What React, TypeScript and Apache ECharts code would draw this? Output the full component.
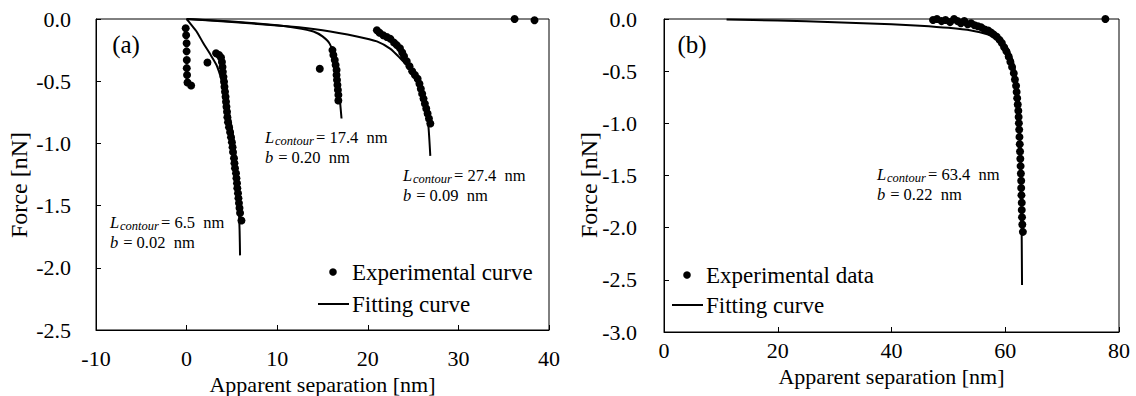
import React, { useEffect, useRef } from "react";
import * as echarts from "echarts";

// ---------- Panel (a) data ----------
const expA1: number[][] = [
  [-0.1, -0.075], [-0.05, -0.13], [0, -0.195], [0, -0.26], [0.02, -0.33],
  [0.02, -0.395], [0.05, -0.45], [0.1, -0.51], [0.5, -0.535],
];
const expALone: number[][] = [[2.3, -0.35], [14.7, -0.4], [36.2, 0], [38.4, -0.01]];
const expA2: number[][] = [
  [3.25, -0.275], [3.58, -0.29], [3.8, -0.31], [3.9, -0.345], [3.96, -0.385],
  [4.0, -0.425], [4.07, -0.465], [4.13, -0.505], [4.18, -0.545], [4.24, -0.585],
  [4.3, -0.625], [4.35, -0.665], [4.4, -0.705], [4.46, -0.745], [4.5, -0.79],
  [4.57, -0.83], [4.68, -0.87], [4.8, -0.91], [4.9, -0.95], [5.0, -0.99],
  [5.07, -1.03], [5.12, -1.07], [5.23, -1.12], [5.28, -1.16], [5.34, -1.2],
  [5.45, -1.24], [5.5, -1.28], [5.56, -1.32], [5.6, -1.36], [5.67, -1.4],
  [5.72, -1.44], [5.78, -1.48], [5.84, -1.52], [5.9, -1.56], [6.05, -1.62],
];
const expA3: number[][] = [
  [16.1, -0.25], [16.2, -0.29], [16.35, -0.33], [16.45, -0.37], [16.55, -0.41],
  [16.55, -0.45], [16.6, -0.49], [16.65, -0.53], [16.7, -0.57], [16.75, -0.61], [16.75, -0.655],
];
const expA4: number[][] = [
  [21.0, -0.09], [21.3, -0.11], [21.7, -0.13], [22.1, -0.145], [22.5, -0.16],
  [22.9, -0.19], [23.2, -0.21], [23.55, -0.235], [23.8, -0.27], [24.0, -0.3],
  [24.3, -0.34], [24.6, -0.38], [24.9, -0.42], [25.2, -0.45], [25.5, -0.48],
  [25.7, -0.52], [25.85, -0.56], [26.0, -0.6], [26.15, -0.64], [26.3, -0.68],
  [26.45, -0.72], [26.6, -0.76], [26.75, -0.8], [26.9, -0.84],
];
const fitA1: number[][] = [
  [0, 0], [0.5, -0.045], [1.1, -0.1], [1.85, -0.195], [2.58, -0.28], [3.3, -0.37],
  [3.86, -0.49], [4.4, -0.65], [4.98, -0.87], [5.34, -1.05], [5.6, -1.3],
  [5.75, -1.5], [5.85, -1.7], [5.9, -1.9],
];
const fitA2: number[][] = [
  [0, 0], [5, -0.02], [10, -0.05], [12, -0.07], [14, -0.1], [15, -0.14],
  [15.8, -0.2], [16.4, -0.33], [16.75, -0.52], [17.1, -0.8],
];
const fitA3: number[][] = [
  [0, 0], [5, -0.025], [11.4, -0.06], [15, -0.09], [18.8, -0.14], [21, -0.18],
  [22.5, -0.24], [23.5, -0.31], [24.5, -0.39], [25.3, -0.49], [26.0, -0.61],
  [26.45, -0.74], [26.7, -0.87], [26.9, -1.1],
];

// ---------- Panel (b) data ----------
const expB: number[][] = [
  [47.3, -0.01], [48, 0], [48.8, -0.02], [49.5, -0.01], [50.3, -0.03], [51, 0],
  [51.6, -0.02], [52.2, -0.04], [52.8, -0.02], [53.4, -0.05], [54, -0.04],
  [54.6, -0.06], [55.2, -0.07], [55.8, -0.08], [56.4, -0.1], [57, -0.11],
  [57.5, -0.13], [58, -0.15], [58.5, -0.17], [59, -0.2], [59.4, -0.23],
  [59.8, -0.27], [60.2, -0.31], [60.6, -0.36], [60.9, -0.41], [61.2, -0.46],
  [61.5, -0.52], [61.7, -0.58], [61.9, -0.64], [62.0, -0.7], [62.1, -0.76],
  [62.2, -0.82], [62.3, -0.88], [62.35, -0.94], [62.4, -1.0], [62.45, -1.06],
  [62.5, -1.13], [62.55, -1.2], [62.6, -1.27], [62.65, -1.34], [62.7, -1.41],
  [62.75, -1.48], [62.8, -1.55], [62.8, -1.62], [62.85, -1.69], [62.9, -1.76],
  [62.9, -1.83], [62.95, -1.9], [63.0, -1.97], [63.1, -2.04], [77.6, 0],
];
const fitB: number[][] = [
  [11, -0.005], [20, -0.015], [30, -0.03], [40, -0.05], [45, -0.065], [50, -0.085],
  [54, -0.11], [57, -0.15], [59, -0.2], [60.3, -0.27], [61.2, -0.38], [61.8, -0.52],
  [62.2, -0.7], [62.5, -0.95], [62.7, -1.3], [62.85, -1.8], [62.95, -2.55],
];

// ---------- texts ----------
const xTitle = "Apparent separation [nm]";
const yTitle = "Force [nN]";
const annA = [
  { L: "6.5", b: "0.02", x: 110, y: 222 },
  { L: "17.4", b: "0.20", x: 265, y: 137 },
  { L: "27.4", b: "0.09", x: 403, y: 175 },
];
const annB = [{ L: "63.4", b: "0.22", x: 877, y: 174 }];

const FONT = "Liberation Serif";

function annText(a: { L: string; b: string; x: number; y: number }) {
  const base = { fontFamily: FONT, fill: "#000", align: "left", verticalAlign: "middle" };
  const items: any[] = [];
  items.push({ type: "text", x: a.x, y: a.y, style: { ...base, text: "L", fontSize: 16.5, fontStyle: "italic" } });
  items.push({ type: "text", x: a.x + 10, y: a.y + 4, style: { ...base, text: "contour", fontSize: 12.5, fontStyle: "italic" } });
  items.push({ type: "text", x: a.x + 51, y: a.y, style: { ...base, text: `= ${a.L}  nm`, fontSize: 16.5 } });
  items.push({ type: "text", x: a.x, y: a.y + 20, style: { ...base, text: "b", fontSize: 16.5, fontStyle: "italic" } });
  items.push({ type: "text", x: a.x + 9, y: a.y + 20, style: { ...base, text: ` = ${a.b}  nm`, fontSize: 16.5 } });
  return items;
}

function legend(x: number, y1: number, y2: number, label1: string) {
  const ts = { fontFamily: FONT, fontSize: 23, fill: "#000", verticalAlign: "middle", align: "left" };
  return [
    { type: "circle", shape: { cx: x - 19, cy: y1, r: 3.8 }, style: { fill: "#000" } },
    { type: "text", x, y: y1, style: { ...ts, text: label1 } },
    { type: "line", shape: { x1: x - 34, y1: y2, x2: x - 3, y2: y2 }, style: { stroke: "#000", lineWidth: 2 } },
    { type: "text", x, y: y2, style: { ...ts, text: "Fitting curve" } },
  ];
}

export default function App() {
  const ref = useRef<HTMLDivElement>(null);
  useEffect(() => {
    if (!ref.current) return;
    const chart = echarts.init(ref.current, null, { renderer: "svg" });
    const axisCommon = {
      axisLine: { show: true, onZero: false, lineStyle: { color: "#000", width: 1 } },
      axisTick: { show: true, inside: true, length: 5, lineStyle: { color: "#000" } },
      splitLine: { show: false },
    };
    const labelStyle = { color: "#000", fontFamily: FONT, fontSize: 22 };
    const nameStyle = { color: "#000", fontFamily: FONT, fontSize: 22 };
    const fitStyle = { color: "#000", width: 2 };
    const lineSeries = (name: string, data: number[][], idx: number) => ({
      name, type: "line", data, xAxisIndex: idx, yAxisIndex: idx,
      showSymbol: false, smooth: 0.2, lineStyle: fitStyle, itemStyle: { color: "#000" }, z: 2,
    });
    const scatterSeries = (name: string, data: number[][], idx: number) => ({
      name, type: "scatter", data, xAxisIndex: idx, yAxisIndex: idx,
      symbolSize: 8, itemStyle: { color: "#000", opacity: 1 }, z: 3, clip: false,
    });
    chart.setOption({
      animation: false,
      backgroundColor: "#fff",
      textStyle: { fontFamily: FONT },
      grid: [
        { left: 96, top: 19, width: 453, height: 311, show: true, borderColor: "#000", borderWidth: 1, outerBoundsMode: "none" },
        { left: 664, top: 19, width: 455, height: 313, show: true, borderColor: "#000", borderWidth: 1, outerBoundsMode: "none" },
      ],
      xAxis: [
        {
          ...axisCommon, type: "value", gridIndex: 0, min: -10, max: 40, interval: 10,
          axisLabel: { ...labelStyle, margin: 17 },
          name: xTitle, nameLocation: "middle", nameGap: 35, nameTextStyle: nameStyle,
        },
        {
          ...axisCommon, type: "value", gridIndex: 1, min: 0, max: 80, interval: 20,
          axisLabel: { ...labelStyle, margin: 7 },
          name: xTitle, nameLocation: "middle", nameGap: 32, nameTextStyle: nameStyle,
        },
      ],
      yAxis: [
        {
          ...axisCommon, type: "value", gridIndex: 0, min: -2.5, max: 0, interval: 0.5,
          axisLabel: { ...labelStyle, margin: 25, formatter: (v: number) => v.toFixed(1) },
        },
        {
          ...axisCommon, type: "value", gridIndex: 1, min: -3, max: 0, interval: 0.5,
          axisLabel: { ...labelStyle, margin: 27, formatter: (v: number) => v.toFixed(1) },
        },
      ],
      series: [
        lineSeries("Fitting curve", fitA1, 0),
        lineSeries("Fitting curve", fitA2, 0),
        lineSeries("Fitting curve", fitA3, 0),
        scatterSeries("Experimental curve", [...expA1, ...expALone, ...expA2, ...expA3, ...expA4], 0),
        lineSeries("Fitting curve", fitB, 1),
        scatterSeries("Experimental data", expB, 1),
      ],
      graphic: [
        { type: "text", x: 19, y: 185, rotation: Math.PI / 2, style: { text: yTitle, fontFamily: FONT, fontSize: 24, fill: "#000", align: "center", verticalAlign: "middle" } },
        { type: "text", x: 589, y: 185, rotation: Math.PI / 2, style: { text: yTitle, fontFamily: FONT, fontSize: 24, fill: "#000", align: "center", verticalAlign: "middle" } },
        { type: "text", x: 126, y: 44, style: { text: "(a)", fontFamily: FONT, fontSize: 25, fill: "#000", align: "center", verticalAlign: "middle" } },
        { type: "text", x: 692, y: 44, style: { text: "(b)", fontFamily: FONT, fontSize: 25, fill: "#000", align: "center", verticalAlign: "middle" } },
        ...annA.flatMap(annText),
        ...annB.flatMap(annText),
        ...legend(352, 272, 304, "Experimental curve"),
        ...legend(706, 275, 305, "Experimental data"),
      ],
    });
    return () => chart.dispose();
  }, []);
  return <div ref={ref} style={{ position: "fixed", left: 0, top: 0, width: 1136, height: 396 }} />;
}
